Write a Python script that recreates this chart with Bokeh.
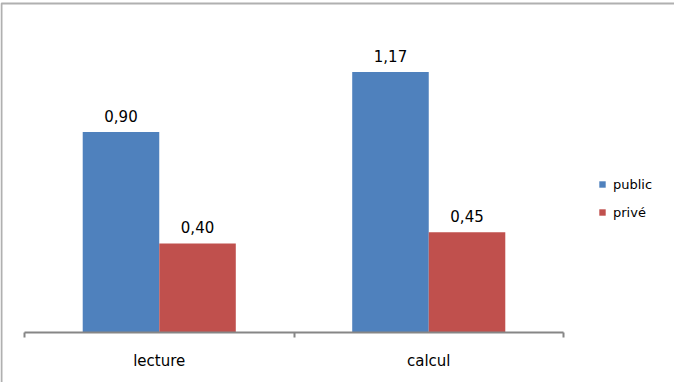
from bokeh.plotting import figure
from bokeh.models import (Range1d, LinearAxis, FixedTicker, Legend, LegendItem,
                          ColumnDataSource, Grid)
from bokeh.transform import dodge
from bokeh.core.properties import value
from bokeh.embed import file_html
from bokeh.resources import INLINE

# ---- data ----
categories = ["lecture", "calcul"]
public = [0.90, 1.17]
prive = [0.40, 0.45]
series_names = ["public", "privé"]
colors = ["#4F81BD", "#C0504D"]

# ---- layout constants (pixels) ----
W, H = 674, 382
PX_X = 269.5      # pixels per category
PX_Y = 222.7      # pixels per unit
LEFT_PAD = 24     # frame-left to axis start
BOTTOM_PAD = 50   # axis to bottom of figure

x0 = -LEFT_PAD / PX_X
x1 = x0 + W / PX_X
y0 = -BOTTOM_PAD / PX_Y
y1 = y0 + H / PX_Y

p = figure(width=W, height=H, output_backend="svg", toolbar_location=None,
           x_range=Range1d(x0, x1), y_range=Range1d(y0, y1),
           x_axis_location=None, y_axis_location=None,
           min_border=0, min_border_left=0, min_border_right=0,
           min_border_top=0, min_border_bottom=0)
p.outline_line_color = None
p.background_fill_color = "white"
p.border_fill_color = "white"
for r in list(p.center):
    if isinstance(r, Grid):
        r.visible = False

FONT = value("DejaVu Sans")

# chart-area border (left and top edges only visible)
bx = x0 + 1.0 / PX_X
by = y1 - 3.0 / PX_Y
p.line(x=[bx, bx, x1 + 1], y=[y0 - 1, by, by], line_color="#b0b0b0", line_width=2)

centers = [i + 0.5 for i in range(len(categories))]
fmt = lambda v: f"{v:.2f}".replace(".", ",")
src = ColumnDataSource(dict(
    x=centers, public=public, prive=prive,
    public_lbl=[fmt(v) for v in public], prive_lbl=[fmt(v) for v in prive]))

BW = 0.284
OFF = 0.142
r1 = p.vbar(x=dodge("x", -OFF), top="public", bottom=0, width=BW, source=src,
            fill_color=colors[0], line_color=None)
r2 = p.vbar(x=dodge("x", OFF), top="prive", bottom=0, width=BW, source=src,
            fill_color=colors[1], line_color=None)

for xo, field, lbl in [(-OFF, "public", "public_lbl"), (OFF, "prive", "prive_lbl")]:
    p.text(x=dodge("x", xo), y=field, text=lbl, source=src,
           text_align="center", text_baseline="bottom", y_offset=-10,
           text_font=FONT, text_font_size="15px", text_color="#000000")

xaxis = LinearAxis(fixed_location=0, bounds=(0, len(categories)),
                   ticker=FixedTicker(ticks=centers,
                                      minor_ticks=list(range(len(categories) + 1))),
                   major_label_overrides={c: n for c, n in zip(centers, categories)})
xaxis.axis_line_color = "#868686"
xaxis.axis_line_width = 2
xaxis.major_tick_line_color = None
xaxis.major_tick_in = 0
xaxis.major_tick_out = 0
xaxis.minor_tick_line_color = "#868686"
xaxis.minor_tick_line_width = 2
xaxis.minor_tick_in = 0
xaxis.minor_tick_out = 5
xaxis.major_label_standoff = 14
xaxis.major_label_text_font = "DejaVu Sans"
xaxis.major_label_text_font_size = "15px"
xaxis.major_label_text_color = "#000000"
p.add_layout(xaxis, "below")

legend = Legend(items=[LegendItem(label=series_names[0], renderers=[r1]),
                       LegendItem(label=series_names[1], renderers=[r2])],
                location=(598, 162), orientation="vertical",
                glyph_width=8, glyph_height=8, label_height=16, label_standoff=7,
                spacing=12, padding=0, margin=0,
                border_line_color=None, background_fill_alpha=0,
                label_text_font="DejaVu Sans", label_text_font_size="13px",
                label_text_color="#000000")
p.add_layout(legend)

open("out.html", "w").write(file_html(p, INLINE))
